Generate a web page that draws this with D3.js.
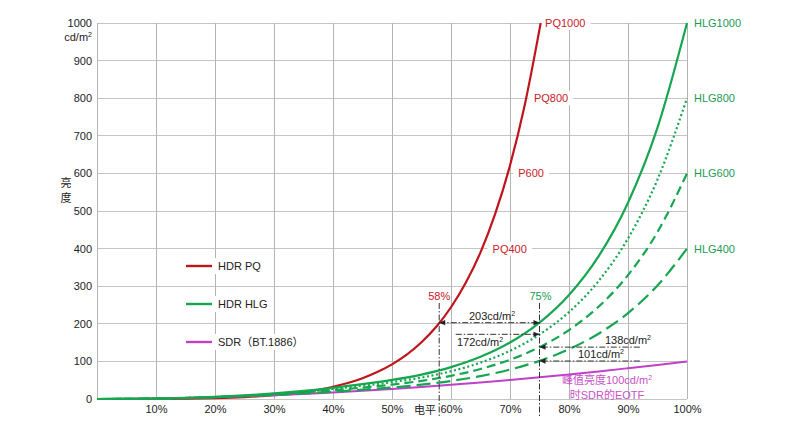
<!DOCTYPE html>
<html><head><meta charset="utf-8">
<script src="https://cdn.jsdelivr.net/npm/d3@7"></script>
<style>
body{margin:0;background:#fff}
svg{display:block}
text{font-family:"Liberation Sans",Arial,"Noto Sans CJK SC",sans-serif;}
</style>
</head><body>
<svg id="c" width="810" height="427"></svg>
<script>
// ---------------- DATA ----------------
const pqLevels = [0,0.05,0.1,0.15,0.2,0.25,0.3,0.35,0.4,0.425,0.45,0.475,0.5,0.525,0.55,0.575,0.6,0.625,0.65,0.675,0.7,0.725,0.75,0.752];
const pqValues = [0,0.06,0.32,0.95,2.4,5.2,10.0,18.4,32.5,42.5,55.4,71.7,92.2,118,151,192,244,309,390,493,621,782,983,1000];

const hlgLevels = [0,0.05,0.1,0.15,0.2,0.25,0.3,0.35,0.4,0.45,0.5,0.55,0.6,0.65,0.7,0.75,0.8,0.85,0.9,0.95,1.0];
const hlg1000 = [0,0.2,1.07,2.8,5.6,9.6,14.9,21.5,29.7,39.4,50.7,65.0,84.9,112.3,150.3,203.2,276.7,379.2,522.1,721.6,1000];
const hlg800  = [0,0.22,1.07,2.75,5.36,9.0,13.7,19.6,26.7,35.1,44.9,57.1,73.8,96.7,128.2,171.5,231.2,313.5,427.0,583.7,800];
const hlg600  = [0,0.23,1.09,2.67,5.04,8.27,12.4,17.4,23.4,30.4,38.3,48.2,61.7,79.8,104.5,137.9,183.4,245.3,329.5,444.1,600];
const hlg400  = [0,0.26,1.11,2.55,4.63,7.34,10.7,14.7,19.4,24.7,30.7,38.1,47.9,60.9,78.3,101.5,132.4,173.6,228.6,302.1,400];

const sdrLevels = [0,0.05,0.1,0.15,0.2,0.25,0.3,0.35,0.4,0.45,0.5,0.55,0.6,0.65,0.7,0.75,0.8,0.85,0.9,0.95,1.0];
const sdrValues = [0,0.34,1.26,2.72,4.7,7.2,10.2,13.6,17.5,21.9,26.8,32.1,37.9,44.1,50.8,57.9,65.4,73.4,81.9,90.7,100];

const xTicks = [0.1,0.2,0.3,0.4,0.5,0.6,0.7,0.8,0.9,1.0];
const xTickLabels = ["10%","20%","30%","40%","50%","60%","70%","80%","90%","100%"];
const yTicks = [0,100,200,300,400,500,600,700,800,900,1000];
const yTickLabels = ["0","100","200","300","400","500","600","700","800","900","1000"];

const pqLabels = ["PQ1000","PQ800","P600","PQ400"];
const pqLabelValues = [1000,800,600,400];
const pqLabelLevels = [0.7595,0.7405,0.714,0.6705];
const hlgLabels = ["HLG1000","HLG800","HLG600","HLG400"];
const hlgLabelValues = [1000,800,600,400];

const legendNames = ["HDR PQ","HDR HLG","SDR（BT.1886）"];

// ---------------- STYLE ----------------
const RED="#c0141c", GREEN="#16a650", MAG="#c040c8";
const RED_T="#c8202a", GREEN_T="#1a9a52", MAG_T="#c850c8";

const svg=d3.select("#c");
const x=d3.scaleLinear().domain([0,1]).range([97,687]);
const y=d3.scaleLinear().domain([0,1000]).range([399,23]);

const gGrid=svg.append("g");
const gBg=svg.append("g");
const gCurve=svg.append("g");
const gAnn=svg.append("g");
const gText=svg.append("g");

// grid
gGrid.selectAll("line.h").data(yTicks).join("line").attr("class","h")
  .attr("x1",x(0)).attr("x2",x(1)).attr("y1",d=>y(d)).attr("y2",d=>y(d))
  .attr("stroke","#c4c4c4").attr("stroke-width",1).attr("shape-rendering","crispEdges");
gGrid.selectAll("line.v").data([0].concat(xTicks)).join("line").attr("class","v")
  .attr("x1",d=>x(d)).attr("x2",d=>x(d)).attr("y1",y(0)).attr("y2",y(1000))
  .attr("stroke","#b4b4b4").attr("stroke-width",1).attr("shape-rendering","crispEdges");

// axes (labels only)
const yAxis=d3.axisLeft(y).tickValues(yTicks).tickFormat((d,i)=>yTickLabels[i]).tickSize(0).tickPadding(5);
const ya=gText.append("g").attr("transform",`translate(${x(0)},0)`).call(yAxis);
ya.select(".domain").remove();
ya.selectAll("text").attr("font-size",11).attr("fill","#222").attr("font-family",'"Liberation Sans",Arial,sans-serif');

const xAxis=d3.axisBottom(x).tickValues(xTicks).tickFormat((d,i)=>xTickLabels[i]).tickSize(0).tickPadding(6);
const xa=gText.append("g").attr("transform",`translate(0,${y(0)})`).call(xAxis);
xa.select(".domain").remove();
xa.selectAll("text").attr("font-size",11).attr("fill","#222").attr("font-family",'"Liberation Sans",Arial,sans-serif');

// unit under 1000
const unit=gText.append("text").attr("x",x(0)-5).attr("y",y(1000)+18).attr("text-anchor","end").attr("font-size",11).attr("fill","#222");
unit.append("tspan").text("cd/m");
unit.append("tspan").text("2").attr("font-size",7).attr("dy",-4);

// axis titles
gText.append("text").attr("x",66).attr("y",187).attr("text-anchor","middle").attr("font-size",11).attr("fill","#222").text("亮");
gText.append("text").attr("x",66).attr("y",202).attr("text-anchor","middle").attr("font-size",11).attr("fill","#222").text("度");
gText.append("text").attr("x",425).attr("y",414).attr("text-anchor","middle").attr("font-size",11).attr("fill","#222").text("电平");

// curves
const line=d3.line().x(d=>x(d[0])).y(d=>y(d[1])).curve(d3.curveMonotoneX);
const zip=(a,b)=>a.map((v,i)=>[v,b[i]]);
function drawCurve(lv,vals,color,w,dash){
  const p=gCurve.append("path").attr("d",line(zip(lv,vals))).attr("fill","none")
    .attr("stroke",color).attr("stroke-width",w).attr("stroke-linejoin","round");
  if(dash) p.attr("stroke-dasharray",dash);
  return p;
}
drawCurve(pqLevels,pqValues,RED,2.2);
drawCurve(sdrLevels,sdrValues,MAG,2);
drawCurve(hlgLevels,hlg400,GREEN,2.2,"14,6");
drawCurve(hlgLevels,hlg600,GREEN,2.2,"9,5");
drawCurve(hlgLevels,hlg800,GREEN,2.2,"2,2.6");
drawCurve(hlgLevels,hlg1000,GREEN,2.2);

// label helper with white background
function bgLabel(tx,ty,str,color,anchor,pad){
  const t=gText.append("text").attr("x",tx).attr("y",ty).attr("text-anchor",anchor||"start")
    .attr("dominant-baseline","central").attr("font-size",11).attr("fill",color).text(str);
  const b=t.node().getBBox();
  gBg.append("rect").attr("x",b.x-pad).attr("y",b.y-1).attr("width",b.width+2*pad).attr("height",b.height+2).attr("fill","#fff");
  return t;
}
pqLabels.forEach((s,i)=>bgLabel(x(pqLabelLevels[i]),y(pqLabelValues[i]),s,RED_T,"start",5));
hlgLabels.forEach((s,i)=>bgLabel(x(1)+7,y(hlgLabelValues[i]),s,GREEN_T,"start",3));

// legend
const legendColors=[RED,GREEN,MAG];
const legendY=[266,304,342];
legendNames.forEach((n,i)=>{
  const t=gText.append("text").attr("x",218).attr("y",legendY[i]).attr("dominant-baseline","central")
    .attr("font-size",11).attr("fill","#222").text(n);
  const b=t.node().getBBox();
  gBg.append("rect").attr("x",183).attr("y",legendY[i]-8).attr("width",b.x+b.width+4-183).attr("height",16).attr("fill","#fff");
  gText.append("line").attr("x1",186).attr("x2",212).attr("y1",legendY[i]).attr("y2",legendY[i])
    .attr("stroke",legendColors[i]).attr("stroke-width",2.4);
});

// annotations
const defs=svg.append("defs");
defs.append("marker").attr("id","ah").attr("viewBox","0 0 10 10").attr("refX",10).attr("refY",5)
  .attr("markerWidth",7).attr("markerHeight",6).attr("markerUnits","userSpaceOnUse").attr("orient","auto-start-reverse")
  .append("path").attr("d","M0,0.5L10,5L0,9.5Z").attr("fill","#222");
const DASH="6,2,1.5,2";
const pqRef=0.58, hlgRef=0.75;
[pqRef,hlgRef].forEach(v=>{
  gAnn.append("line").attr("x1",x(v)).attr("x2",x(v)).attr("y1",303).attr("y2",418)
    .attr("stroke","#333").attr("stroke-width",1).attr("stroke-dasharray",DASH);
});
gText.append("text").attr("x",x(pqRef)).attr("y",296).attr("text-anchor","middle").attr("dominant-baseline","central").attr("font-size",11).attr("fill",RED_T).text("58%");
gText.append("text").attr("x",x(hlgRef)+1).attr("y",296).attr("text-anchor","middle").attr("dominant-baseline","central").attr("font-size",11).attr("fill",GREEN_T).text("75%");

const annRefs=[203,172,138,101];
function arrow(x1,x2,yy,start,end){
  const l=gAnn.append("line").attr("x1",x1).attr("x2",x2).attr("y1",yy).attr("y2",yy)
    .attr("stroke","#333").attr("stroke-width",1).attr("stroke-dasharray",DASH);
  if(start) l.attr("marker-start","url(#ah)");
  if(end) l.attr("marker-end","url(#ah)");
}
arrow(x(pqRef),x(hlgRef),y(annRefs[0]),true,true);
arrow(x(0.608),x(hlgRef),y(annRefs[1]),false,true);
arrow(x(0.92),x(hlgRef),y(annRefs[2]),false,true);
arrow(x(0.92),x(hlgRef),y(annRefs[3]),false,true);

function cdLabel(tx,ty,num,anchor,color){
  const t=gText.append("text").attr("x",tx).attr("y",ty).attr("text-anchor",anchor).attr("font-size",11).attr("fill",color||"#222");
  t.append("tspan").text(num+"cd/m");
  t.append("tspan").text("2").attr("font-size",7).attr("dy",-4);
  return t;
}
cdLabel(492,320,annRefs[0],"middle");
cdLabel(457,346,annRefs[1],"start");
cdLabel(651,344,annRefs[2],"end");
cdLabel(624,358,annRefs[3],"end");

// SDR note
const n1=gText.append("text").attr("x",607).attr("y",384).attr("text-anchor","middle").attr("font-size",11).attr("fill",MAG_T);
n1.append("tspan").text("峰值亮度100cd/m");
n1.append("tspan").text("2").attr("font-size",7).attr("dy",-4);
gText.append("text").attr("x",607).attr("y",399).attr("text-anchor","middle").attr("font-size",11).attr("fill",MAG_T).text("时SDR的EOTF");
</script>
</body></html>
